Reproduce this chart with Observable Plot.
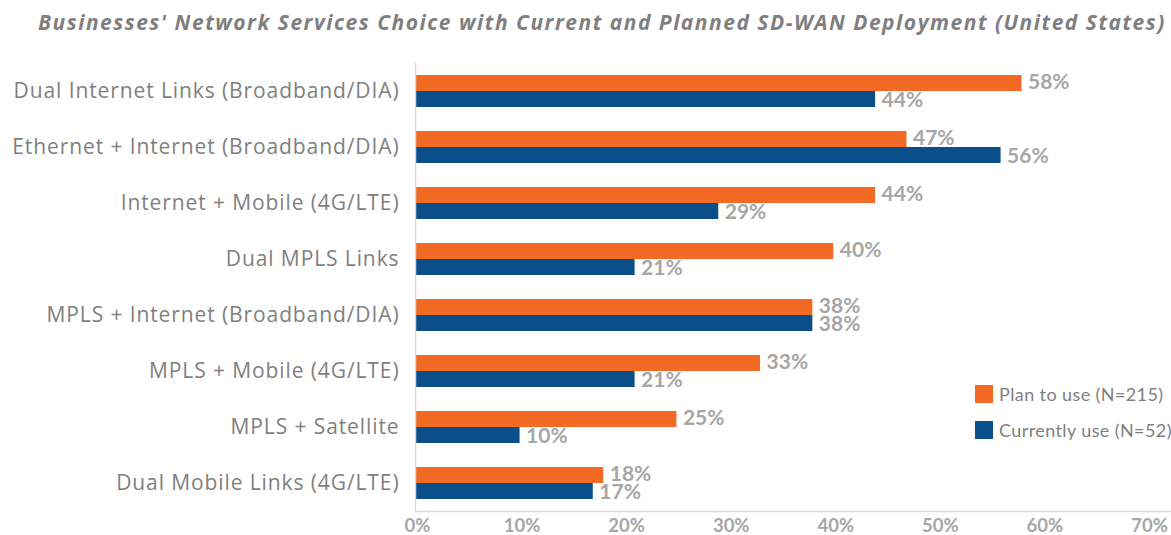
<!DOCTYPE html>
<html>
<head>
<meta charset="utf-8">
<script src="https://cdn.jsdelivr.net/npm/d3@7"></script>
<script src="https://cdn.jsdelivr.net/npm/@observablehq/plot@0.6"></script>
<style>
  html, body { margin: 0; padding: 0; background: #fff; }
  #wrap { position: relative; width: 1171px; height: 535px; overflow: hidden; }
  #title { height: 45px; line-height: 45px; padding-left: 38px; white-space: nowrap;
           font-family: "Open Sans", sans-serif; font-size: 21px; letter-spacing: 1.5px;
           font-weight: bold; font-style: italic; color: #7f7f7f; }
  #legend { position: absolute; left: 975px; top: 383px; font-family: Lato, sans-serif; font-size: 18px;
            letter-spacing: 0.4px; color: #7f7f7f; }
  .li { display: flex; align-items: center; height: 22px; margin-bottom: 14px; white-space: nowrap; }
  .sw { width: 18px; height: 18px; margin-right: 6px; }
  g[aria-label="fy-axis tick label"] text { letter-spacing: 0.9px; }
</style>
</head>
<body>
<div id="wrap">
  <div id="title">Businesses' Network Services Choice with Current and Planned SD-WAN Deployment (United States)</div>
  <div id="chart"></div>
  <div id="legend"></div>
</div>
<script>
const categories = [
  "Dual Internet Links (Broadband/DIA)",
  "Ethernet + Internet (Broadband/DIA)",
  "Internet + Mobile (4G/LTE)",
  "Dual MPLS Links",
  "MPLS + Internet (Broadband/DIA)",
  "MPLS + Mobile (4G/LTE)",
  "MPLS + Satellite",
  "Dual Mobile Links (4G/LTE)"
];
const planValues = [58, 47, 44, 40, 38, 33, 25, 18];
const currentValues = [44, 56, 29, 21, 38, 21, 10, 17];
const seriesNames = ["Plan to use (N=215)", "Currently use (N=52)"];
const seriesColors = ["#F26A24", "#0B4F8A"];
const xTicks = [0, 10, 20, 30, 40, 50, 60, 70];

const rows = categories.flatMap((c, i) => [
  {category: c, series: seriesNames[0], value: planValues[i]},
  {category: c, series: seriesNames[1], value: currentValues[i]}
]);

const chart = Plot.plot({
  width: 1171,
  height: 490,
  marginTop: 18,
  marginBottom: 24,
  marginLeft: 415,
  marginRight: 1,
  style: {fontFamily: "Lato, sans-serif", background: "white", overflow: "visible"},
  x: {domain: [0, 72.2]},
  y: {domain: seriesNames, axis: null, paddingInner: 0, paddingOuter: 0.7},
  fy: {domain: categories, padding: 0},
  color: {domain: seriesNames, range: seriesColors},
  marks: [
    Plot.barX(rows, {fy: "category", y: "series", x: "value", fill: "series"}),
    Plot.text(rows.filter(d => d.series === seriesNames[0]), {fy: "category", y: "series", x: "value",
      text: d => d.value + "%", textAnchor: "start", dx: 6, dy: -1,
      fill: "#A6A6A6", fontWeight: "bold", fontSize: 21}),
    Plot.text(rows.filter(d => d.series === seriesNames[1]), {fy: "category", y: "series", x: "value",
      text: d => d.value + "%", textAnchor: "start", dx: 6, dy: 1,
      fill: "#A6A6A6", fontWeight: "bold", fontSize: 21}),
    Plot.ruleX([0], {stroke: "#d9d9d9", strokeWidth: 1.5}),
    Plot.axisFy({anchor: "left", label: null, tickSize: 0, tickPadding: 16,
      fontSize: 21, fontFamily: "Open Sans, sans-serif", color: "#7f7f7f"}),
    Plot.axisX({ticks: xTicks, tickFormat: d => d + "%", tickSize: 0, tickPadding: 7, dx: 2,
      fontSize: 18.5, fontWeight: "bold", color: "#a6a6a6", label: null}),
    Plot.frame({anchor: "bottom", facetAnchor: "bottom", stroke: "#d9d9d9", strokeWidth: 1.5})
  ]
});
document.getElementById("chart").appendChild(chart);

const legend = document.getElementById("legend");
seriesNames.forEach((s, i) => {
  const li = document.createElement("div");
  li.className = "li";
  const sw = document.createElement("div");
  sw.className = "sw";
  sw.style.background = seriesColors[i];
  const t = document.createElement("span");
  t.textContent = s;
  li.appendChild(sw); li.appendChild(t);
  legend.appendChild(li);
});
</script>
</body>
</html>
